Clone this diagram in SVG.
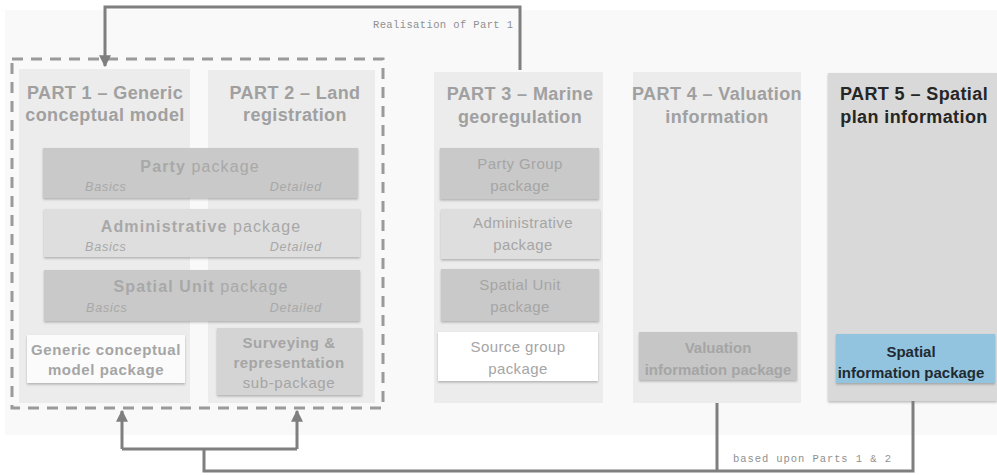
<svg xmlns="http://www.w3.org/2000/svg" width="997" height="475" viewBox="0 0 997 475">
  <defs>
    <filter id="shadow" x="-5%" y="-10%" width="110%" height="130%">
      <feDropShadow dx="0" dy="1.5" stdDeviation="1.2" flood-color="#000" flood-opacity="0.25"/>
    </filter>
    <marker id="arrow" viewBox="0 0 10 10" refX="9" refY="5" markerWidth="4" markerHeight="4" orient="auto">
      <path d="M0,0 L10,5 L0,10 z" fill="#7f7f7f"/>
    </marker>
    <style>
      .panel { fill: #ececec; }
      .head { font-family: "Liberation Sans", Arial, sans-serif; font-weight: bold; font-size: 18px; fill: #a0a0a0; text-anchor: middle; letter-spacing: 0.4px; }
      .pkg { font-family: "Liberation Sans", Arial, sans-serif; font-size: 16px; fill: #a8a8a8; text-anchor: middle; letter-spacing: 1.1px; }
      .pkgb { font-weight: bold; }
      .sub { font-family: "Liberation Sans", Arial, sans-serif; font-style: italic; font-size: 12.5px; fill: #a8a8a8; letter-spacing: 0.8px; }
      .box { font-family: "Liberation Sans", Arial, sans-serif; font-size: 15px; fill: #a5a5a5; text-anchor: middle; }
      .lbl { font-family: "Liberation Mono", monospace; font-size: 10.5px; fill: #909090; }
      .dark { fill: #c9c9c9; }
      .light { fill: #dedede; }
      .conn { fill: none; stroke: #7f7f7f; stroke-width: 3; }
    </style>
  </defs>

  <!-- faint backdrop -->
  <rect x="5" y="10" width="992" height="425" fill="#f9f9f9"/>

  <!-- grouping of parts 1 and 2 -->
  <rect id="group-1-2" x="12" y="59" width="371" height="349" fill="none" stroke="#9a9a9a" stroke-width="3" stroke-dasharray="11,8"/>

  <g id="part1">
    <rect class="panel" x="19" y="69" width="171" height="334"/>
    <text class="head" x="105" y="99">PART 1 – Generic</text>
    <text class="head" x="105" y="121">conceptual model</text>
  </g>

  <g id="part2">
    <rect class="panel" x="208" y="70" width="167" height="333"/>
    <text class="head" x="295" y="99">PART 2 – Land</text>
    <text class="head" x="295" y="121">registration</text>
  </g>

  <g id="party-package">
    <rect class="dark" x="43" y="148" width="315" height="50" filter="url(#shadow)"/>
    <text class="pkg" x="200" y="172"><tspan class="pkgb">Party</tspan> package</text>
    <text class="sub" x="85" y="191">Basics</text>
    <text class="sub" x="322" y="191" text-anchor="end">Detailed</text>
  </g>

  <g id="administrative-package">
    <rect class="light" x="44" y="209" width="316" height="48" filter="url(#shadow)"/>
    <text class="pkg" x="201" y="232"><tspan class="pkgb">Administrative</tspan> package</text>
    <text class="sub" x="85" y="251">Basics</text>
    <text class="sub" x="322" y="251" text-anchor="end">Detailed</text>
  </g>

  <g id="spatial-unit-package">
    <rect class="dark" x="44" y="270" width="316" height="51" filter="url(#shadow)"/>
    <text class="pkg" x="201" y="292"><tspan class="pkgb">Spatial Unit</tspan> package</text>
    <text class="sub" x="86" y="312">Basics</text>
    <text class="sub" x="322" y="312" text-anchor="end">Detailed</text>
  </g>

  <g id="generic-conceptual-model-package">
    <rect x="27" y="335" width="158" height="48" fill="#fbfbfb" filter="url(#shadow)"/>
    <text class="box" x="106" y="355" font-weight="bold" letter-spacing="0.6">Generic conceptual</text>
    <text class="box" x="106" y="375" font-weight="bold" letter-spacing="0.6">model package</text>
  </g>

  <g id="surveying-sub-package">
    <rect x="217" y="328" width="145" height="67" fill="#d4d4d4" filter="url(#shadow)"/>
    <text class="box" x="289" y="348" font-weight="bold" font-size="13" letter-spacing="0.5">Surveying &amp;</text>
    <text class="box" x="289" y="368" font-weight="bold" font-size="13" letter-spacing="0.5">representation</text>
    <text class="box" x="289" y="388" font-size="13" letter-spacing="0.6">sub-package</text>
  </g>

  <g id="part3">
    <rect class="panel" x="434" y="72" width="169" height="331"/>
    <text class="head" x="520" y="100">PART 3 – Marine</text>
    <text class="head" x="520" y="123">georegulation</text>
  </g>

  <g id="party-group-package">
    <rect class="dark" x="440" y="148" width="159" height="51" filter="url(#shadow)"/>
    <text class="box" x="520" y="169" font-size="16" letter-spacing="0.4">Party Group</text>
    <text class="box" x="520" y="191" font-size="16" letter-spacing="0.4">package</text>
  </g>

  <g id="administrative-package-3">
    <rect class="light" x="441" y="209" width="159" height="50" filter="url(#shadow)"/>
    <text class="box" x="523" y="228" font-size="16" letter-spacing="0.4">Administrative</text>
    <text class="box" x="523" y="250" font-size="16" letter-spacing="0.4">package</text>
  </g>

  <g id="spatial-unit-package-3">
    <rect class="dark" x="441" y="269" width="158" height="52" filter="url(#shadow)"/>
    <text class="box" x="520" y="290" font-size="16" letter-spacing="0.4">Spatial Unit</text>
    <text class="box" x="520" y="312" font-size="16" letter-spacing="0.4">package</text>
  </g>

  <g id="source-group-package">
    <rect x="438" y="332" width="160" height="49" fill="#ffffff" filter="url(#shadow)"/>
    <text class="box" x="518" y="352" font-size="16" letter-spacing="0.4">Source group</text>
    <text class="box" x="518" y="374" font-size="16" letter-spacing="0.4">package</text>
  </g>

  <g id="part4">
    <rect class="panel" x="633" y="72" width="168" height="331"/>
    <text class="head" x="717" y="100">PART 4 – Valuation</text>
    <text class="head" x="717" y="123">information</text>
  </g>

  <g id="valuation-information-package">
    <rect x="639" y="332" width="158" height="48" fill="#c6c6c6" filter="url(#shadow)"/>
    <text class="box" x="718" y="353" font-weight="bold" font-size="15.5">Valuation</text>
    <text class="box" x="718" y="375" font-weight="bold" font-size="15.5">information package</text>
  </g>

  <g id="part5">
    <rect x="828" y="73" width="169" height="328" fill="#d9d9d9" filter="url(#shadow)"/>
    <text class="head" x="914" y="100" style="fill:#262626">PART 5 – Spatial</text>
    <text class="head" x="914" y="123" style="fill:#262626">plan information</text>
  </g>

  <g id="spatial-information-package">
    <rect x="836" y="334" width="159" height="49" fill="#92c4df" filter="url(#shadow)"/>
    <text class="box" x="911" y="357" font-weight="bold" font-size="16" style="fill:#1f2a33">Spatial</text>
    <text class="box" x="911" y="378" font-weight="bold" font-size="16" style="fill:#1f2a33">information package</text>
  </g>

  <g id="connectors">
    <!-- realisation of Part 1 -->
    <path class="conn" d="M520,70 V7 H105 V66" marker-end="url(#arrow)"/>
    <text class="lbl" x="373" y="28" textLength="140" lengthAdjust="spacing">Realisation of Part 1</text>
    <!-- based upon Parts 1 & 2 -->
    <path class="conn" d="M717,403 V471"/>
    <path class="conn" d="M913,401 V471 H204 V449"/>
    <path class="conn" d="M122,449 H297"/>
    <path class="conn" d="M122,449 V411" marker-end="url(#arrow)"/>
    <path class="conn" d="M297,449 V411" marker-end="url(#arrow)"/>
    <text class="lbl" x="733" y="462" textLength="158" lengthAdjust="spacing">based upon Parts 1 &amp; 2</text>
  </g>
</svg>
